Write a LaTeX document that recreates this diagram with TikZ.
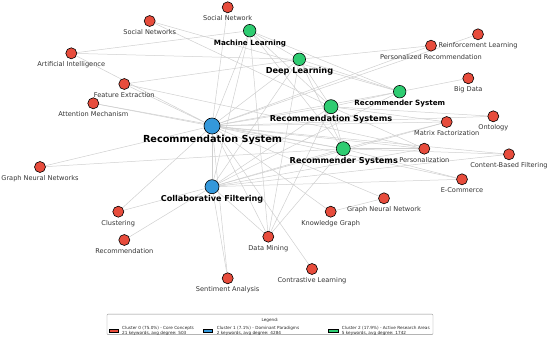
\documentclass[tikz,border=0pt]{standalone}
\usepackage{fontspec}
\setmainfont{DejaVu Sans}
\usetikzlibrary{backgrounds}
\definecolor{cred}{HTML}{E74C3C}
\definecolor{cgreen}{HTML}{2ECC71}
\definecolor{cblue}{HTML}{3498DB}
\definecolor{edgegray}{HTML}{CFCFCF}
\definecolor{lblgray}{HTML}{333333}
\begin{document}
\begin{tikzpicture}[x=1pt,y=-1pt,
  edge/.style={draw=edgegray, line width=0.5pt},
  kw/.style={circle, draw=black, line width=0.6pt, inner sep=0pt},
  rnode/.style={kw, fill=cred, minimum size=11pt},
  gnode/.style={kw, fill=cgreen, minimum size=12.5pt},
  gbig/.style={kw, fill=cgreen, minimum size=14pt},
  bnode/.style={kw, fill=cblue, minimum size=14pt},
  bbig/.style={kw, fill=cblue, minimum size=16pt},
  rlab/.style={anchor=base, inner sep=0pt, text=lblgray, font=\fontsize{6.6}{7}\selectfont},
  glab/.style={anchor=base, inner sep=0pt, text=black, font=\fontsize{7.2}{8}\bfseries},
  gblab/.style={anchor=base, inner sep=0pt, text=black, font=\fontsize{8.2}{9}\bfseries},
  leglab/.style={anchor=base west, inner sep=0pt, text=black!85, font=\fontsize{4.2}{4.7}\selectfont},
  swatch/.style={draw=black, line width=0.4pt, inner sep=0pt, minimum width=9.3pt, minimum height=3pt}
]
\useasboundingbox (0,0) rectangle (550,340);

% red nodes
\node[rnode] (sn1) at (227.7,7.3) {};
\node[rnode] (sns) at (149.7,21) {};
\node[rnode] (ai) at (71.3,53.3) {};
\node[rnode] (fe) at (124.3,84) {};
\node[rnode] (am) at (93.3,103.3) {};
\node[rnode] (gnns) at (40,167) {};
\node[rnode] (rl) at (478,34.3) {};
\node[rnode] (pr) at (431,45.7) {};
\node[rnode] (bd) at (468.3,78.3) {};
\node[rnode] (mf) at (446.7,122) {};
\node[rnode] (ont) at (493.3,116.3) {};
\node[rnode] (pers) at (424.3,148.7) {};
\node[rnode] (cbf) at (509,154.3) {};
\node[rnode] (ec) at (462,179.3) {};
\node[rnode] (gnn) at (384,198.3) {};
\node[rnode] (kg) at (330.7,211.7) {};
\node[rnode] (clu) at (118.3,211.7) {};
\node[rnode] (rec) at (124.3,240) {};
\node[rnode] (dm) at (268.3,236.7) {};
\node[rnode] (sa) at (227.7,278.3) {};
\node[rnode] (cl) at (312,269) {};
% green nodes
\node[gnode] (ml) at (249.7,30.7) {};
\node[gnode] (dl) at (299.3,59.3) {};
\node[gnode] (rsys) at (399.7,91.7) {};
\node[gbig] (rss) at (331,106.7) {};
\node[gbig] (rsyss) at (343.3,148.7) {};
% blue nodes
\node[bbig] (rs) at (212,126) {};
\node[bnode] (cf) at (212,186.7) {};

\begin{scope}[on background layer]
\foreach \a/\b in {rs/cf,rs/ml,rs/dl,rs/rss,rs/rsyss,rs/rsys,rs/ai,rs/fe,rs/am,rs/gnns,rs/clu,rs/sn1,rs/kg,rs/cl,rs/sa,rs/dm,rs/pr,rs/rl,rs/ont,rs/mf,rs/cbf,rs/ec,rs/pers,rs/gnn,
  cf/ml,cf/dl,cf/rss,cf/rsyss,cf/rsys,cf/clu,cf/rec,cf/sa,cf/dm,cf/mf,cf/ec,cf/cbf,cf/pers,
  ml/ai,ml/dl,ml/rss,ml/rsyss,ml/rsys,ml/dm,
  dl/ai,dl/fe,dl/rss,dl/rsyss,dl/rsys,dl/pr,dl/dm,
  rsys/bd,rsys/sns,rsys/rss,
  rss/sns,rss/ont,rss/mf,rss/pers,rss/rsyss,rss/dm,
  rsyss/gnns,rsyss/pers,rsyss/cbf,rsyss/ec,rsyss/dm,rsyss/mf,
  kg/gnn,fe/pers,am/rsyss}
  \draw[edge] (\a) -- (\b);
\end{scope}

% labels
\node[rlab] (sn1-l) at (227.7,20.8) {Social Network};
\node[rlab] (sns-l) at (149.7,34.5) {Social Networks};
\node[rlab] (ai-l) at (71.3,66.8) {Artificial Intelligence};
\node[rlab] (fe-l) at (124.3,97.5) {Feature Extraction};
\node[rlab] (am-l) at (93.3,116.8) {Attention Mechanism};
\node[rlab] (gnns-l) at (40,180.5) {Graph Neural Networks};
\node[rlab] (rl-l) at (478,47.8) {Reinforcement Learning};
\node[rlab] (pr-l) at (431,59.2) {Personalized Recommendation};
\node[rlab] (bd-l) at (468.3,91.8) {Big Data};
\node[rlab] (mf-l) at (446.7,135.5) {Matrix Factorization};
\node[rlab] (ont-l) at (493.3,129.8) {Ontology};
\node[rlab] (pers-l) at (424.3,162.2) {Personalization};
\node[rlab] (cbf-l) at (509,167.8) {Content-Based Filtering};
\node[rlab] (ec-l) at (462,192.8) {E-Commerce};
\node[rlab] (gnn-l) at (384,211.8) {Graph Neural Network};
\node[rlab] (kg-l) at (330.7,225.2) {Knowledge Graph};
\node[rlab] (clu-l) at (118.3,225.2) {Clustering};
\node[rlab] (rec-l) at (124.3,253.5) {Recommendation};
\node[rlab] (dm-l) at (268.3,250.2) {Data Mining};
\node[rlab] (sa-l) at (227.7,291.8) {Sentiment Analysis};
\node[rlab] (cl-l) at (312,282.5) {Contrastive Learning};

\node[glab] (ml-l) at (250,45.2) {Machine Learning};
\node[gblab] (dl-l) at (299.5,74) {Deep Learning};
\node[glab] (rsys-l) at (399.8,105.3) {Recommender System};
\node[gblab] (rss-l) at (331,121) {Recommendation Systems};
\node[gblab] (rsyss-l) at (343.8,163.3) {Recommender Systems};
\node[anchor=base, inner sep=0pt, font=\fontsize{9.7}{11}\bfseries] (rs-l) at (212.5,142) {Recommendation System};
\node[anchor=base, inner sep=0pt, font=\fontsize{8.1}{9}\bfseries] (cf-l) at (212,201.7) {Collaborative Filtering};

% legend
\node[draw=black!45, line width=0.4pt, rounded corners=1pt, minimum width=326pt, minimum height=20.5pt, inner sep=0pt] (leg) at (270,324.3) {};
\node[anchor=base, inner sep=0pt, text=black!85, font=\fontsize{4.2}{4.7}\selectfont] (leg-t) at (270,321.5) {Legend:};
\node[swatch, fill=cred] (sw0) at (113.7,330.8) {};
\node[swatch, fill=cblue] (sw1) at (208,330.8) {};
\node[swatch, fill=cgreen] (sw2) at (333.3,330.8) {};
\node[leglab] (l0a) at (122,329.4) {Cluster 0 (75.0\%) - Core Concepts};
\node[leglab] (l0b) at (122,334.1) {21 keywords, avg degree: 503};
\node[leglab] (l1a) at (216.7,329.4) {Cluster 1 (7.1\%) - Dominant Paradigms};
\node[leglab] (l1b) at (216.7,334.1) {2 keywords, avg degree: 4284};
\node[leglab] (l2a) at (341.7,329.4) {Cluster 2 (17.9\%) - Active Research Areas};
\node[leglab] (l2b) at (341.7,334.1) {5 keywords, avg degree: 1742};
\end{tikzpicture}
\end{document}
